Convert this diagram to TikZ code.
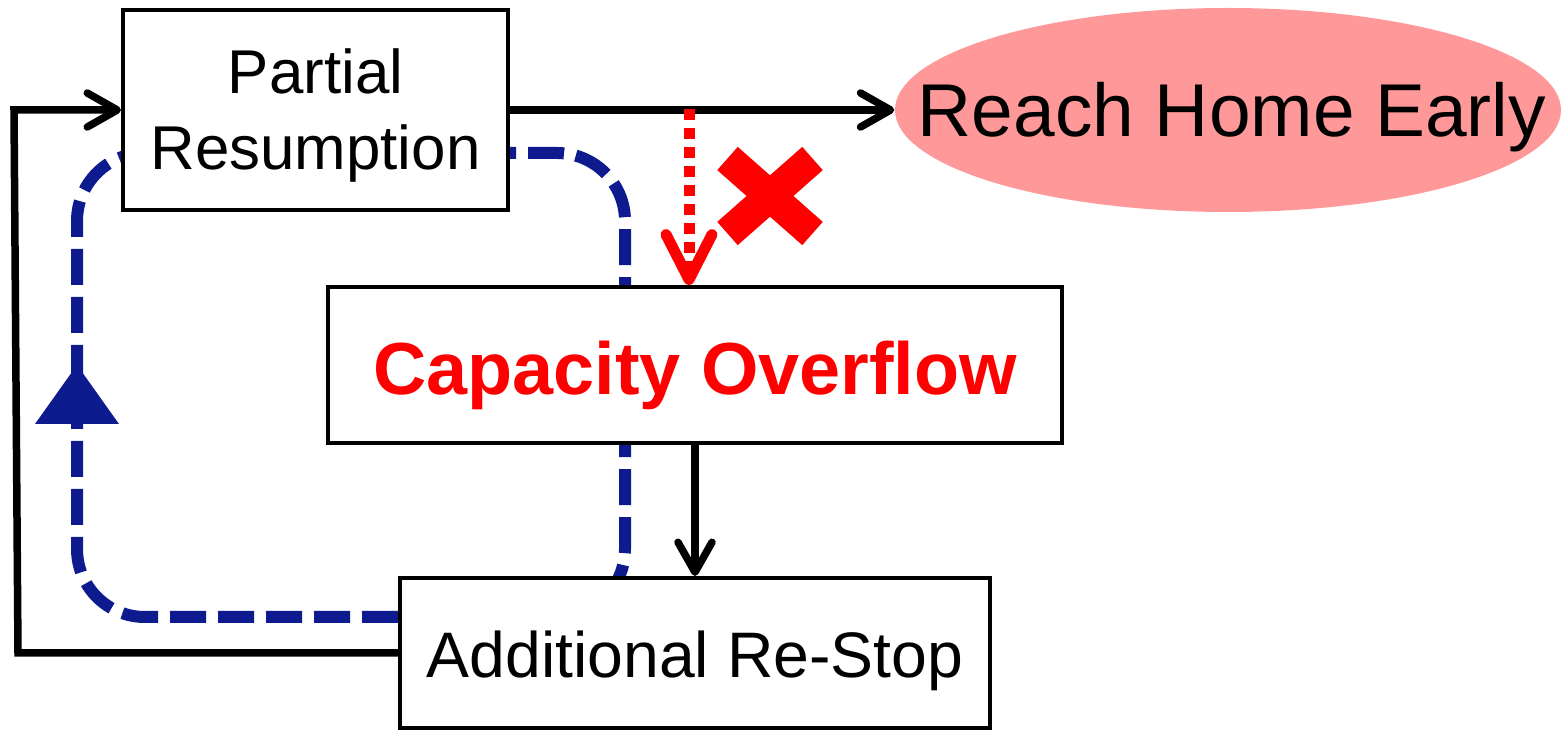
\documentclass[tikz,border=0pt]{standalone}
\usepackage{fontspec}
\setmainfont{Liberation Sans}
\usetikzlibrary{arrows.meta,shapes.geometric,backgrounds}
\definecolor{loopblue}{RGB}{14,27,143}
\definecolor{goalpink}{RGB}{255,153,153}
\tikzset{
  stagebox/.style={draw=black, line width=0.04cm, fill=white, inner sep=0pt,
    align=center},
  flow/.style={line width=0.075cm, line join=miter,
    -{Straight Barb[length=0.3cm,width=0.34cm,round]}},
  loopdash/.style={loopblue, line width=0.12cm,
    dash pattern=on 0.36cm off 0.12cm, rounded corners=0.68cm},
  blocked/.style={red, line width=0.11cm, dash pattern=on 0.11cm off 0.08cm,
    -{Straight Barb[length=0.45cm,width=0.46cm,round]}},
}
\begin{document}
\begin{tikzpicture}
\useasboundingbox (0,0) rectangle (15.61,-7.31);

% stages
\node[stagebox, minimum width=3.85cm, minimum height=2.0cm,
  font=\fontsize{17.6}{21.9}\selectfont, text height=1.45cm, text depth=0.25cm]
  (pr) at (3.155,-1.10) {Partial\\Resumption};
\node[stagebox, minimum width=7.34cm, minimum height=1.56cm, text=red,
  font=\fontsize{21}{25}\selectfont\bfseries, text height=0.8cm, text depth=0.2cm]
  (co) at (6.95,-3.65) {Capacity Overflow};
\node[stagebox, minimum width=5.90cm, minimum height=1.50cm,
  font=\fontsize{18.3}{22}\selectfont, text height=0.7cm, text depth=0.2cm]
  (ar) at (6.95,-6.53) {Additional Re-Stop};
\node[ellipse, fill=goalpink, minimum width=6.66cm, minimum height=2.04cm,
  inner sep=0pt, font=\fontsize{21.3}{25}\selectfont, text height=0.74cm,
  text depth=0.2cm] (reh) at (12.28,-1.10)
  {\makebox[0pt]{\hspace{0.08cm}Reach Home Early}};

% repeating cycle, drawn behind the boxes
\begin{scope}[on background layer]
  \draw[loopdash] ([shift={(-0.3,-0.43)}]pr.east) -- (6.25,-1.53) -- (6.25,-6.17)
    -- ([shift={(0.3,0.36)}]ar.west);
  \draw[loopdash] ([yshift=0.36cm]ar.west) -- (0.77,-6.17) -- (0.77,-1.53)
    -- ([shift={(0.3,-0.43)}]pr.west);
\end{scope}
\fill[loopblue] (0.77,-3.65) -- (0.35,-4.24) -- (1.19,-4.24) -- cycle;

% main flow
\draw[flow] (pr.east) -- (reh.west);
\draw[flow] (co.south) -- (ar.north);
\coordinate (fbl) at (0.18,-6.53);
\coordinate (ful) at (0.14,-1.10);
\draw[flow] (ar.west) -- (fbl) -- (ful) -- (pr.west);

% blocked transition
\coordinate (cut) at (6.89,-1.09);
\draw[blocked] (cut) -- (cut |- co.north);
\draw[red, line width=0.31cm] (7.275,-1.585) -- (8.125,-2.335)
  (8.125,-1.585) -- (7.275,-2.335);
\end{tikzpicture}
\end{document}
